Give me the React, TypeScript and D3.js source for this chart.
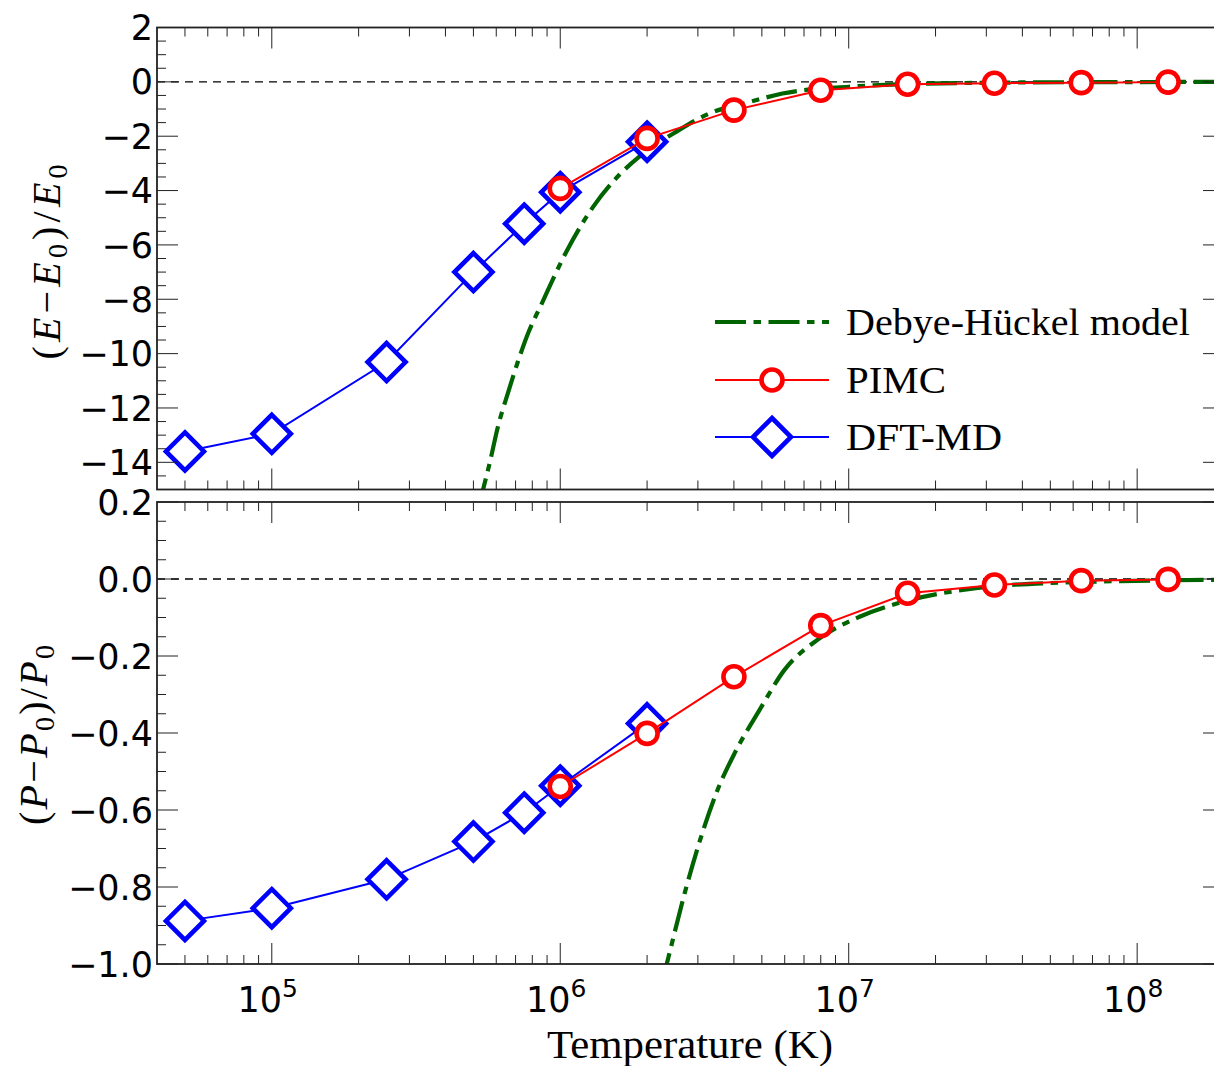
import React from "react";
import * as d3 from "d3";

// ---- data ----
const T_DFT = [5e4, 1e5, 2.5e5, 5e5, 7.5e5, 1e6, 2e6];
const E_DFT = [-13.6, -12.95, -10.31, -7.0, -5.22, -4.06, -2.2];
const P_DFT = [-0.888, -0.855, -0.78, -0.682, -0.607, -0.537, -0.375];

const T_PIMC = [1e6, 2e6, 4e6, 8e6, 1.6e7, 3.2e7, 6.4e7, 1.28e8];
const E_PIMC = [-3.92, -2.08, -1.04, -0.31, -0.09, -0.05, -0.03, -0.01];
const P_PIMC = [-0.539, -0.401, -0.254, -0.121, -0.037, -0.0156, -0.0043, -0.001];

const T_DH_E = [5.2e5, 5.4e5, 5.69e5, 6.08e5, 6.58e5, 7.13e5, 7.73e5, 8.59e5, 1.05e6, 1.3e6, 1.6e6, 1.88e6, 2.52e6, 3.29e6, 4.53e6, 5.89e6, 1.0e7, 1.62e7, 3.3e7, 7.4e7, 2e8];
const E_DH = [-15.7, -15.0, -14.04, -12.69, -11.46, -10.3, -9.26, -8.2, -6.25, -4.6, -3.43, -2.75, -1.84, -1.16, -0.74, -0.43, -0.18, -0.08, -0.03, -0.01, -0.003];

const T_DH_P = [2.25e6, 2.34e6, 2.7e6, 3.08e6, 3.51e6, 4.02e6, 4.91e6, 5.99e6, 7.79e6, 1.09e7, 1.62e7, 2.76e7, 5.37e7, 2e8];
const P_DH = [-1.05, -1.0, -0.816, -0.669, -0.548, -0.453, -0.34, -0.236, -0.158, -0.098, -0.055, -0.024, -0.0096, -0.002];

const X_MAJOR = [1e5, 1e6, 1e7, 1e8];
const X_EXP = ["5", "6", "7", "8"];
const TOP_MAJOR = [2, 0, -2, -4, -6, -8, -10, -12, -14];
const BOT_MAJOR = [0.2, 0.0, -0.2, -0.4, -0.6, -0.8, -1.0];
const LEGEND = ["Debye-Hückel model", "PIMC", "DFT-MD"];

// ---- layout ----
const W = 1214, H = 1066;
const L = 157, R = 1224;
const x = d3.scaleLog().domain([4e4, 2e8]).range([L, R]);
const yTop = d3.scaleLinear().domain([-15, 2]).range([489.5, 27.5]);
const yBot = d3.scaleLinear().domain([-1, 0.2]).range([964, 502]);

const RED = "#ff0000";
const BLUE = "#0000ff";
const GREEN = "#006400";
const TICK = "#222";
const SANS = "'DejaVu Sans', sans-serif";
const SERIF = "'Liberation Serif', 'DejaVu Serif', serif";

const minus = (s: string) => s.replace("-", "\u2212");

const xMinor: number[] = [];
for (let e = 4; e <= 8; e++) {
  for (let k = 2; k <= 9; k++) {
    const v = k * Math.pow(10, e);
    if (v > 4e4 && v < 2e8) xMinor.push(v);
  }
}

function Diamond({ cx, cy }: { cx: number; cy: number }) {
  const r = 19;
  return (
    <path
      d={`M${cx},${cy - r}L${cx + r},${cy}L${cx},${cy + r}L${cx - r},${cy}Z`}
      fill="#fff"
      stroke={BLUE}
      strokeWidth={4.6}
      strokeLinejoin="miter"
    />
  );
}
function Circle({ cx, cy }: { cx: number; cy: number }) {
  return <circle cx={cx} cy={cy} r={10.5} fill="#fff" stroke={RED} strokeWidth={4.6} />;
}

function Panel({
  y,
  id,
  major,
  minorStep,
  fmt,
  dfty,
  pimcy,
  dhT,
  dhY,
}: {
  y: d3.ScaleLinear<number, number>;
  id: string;
  major: number[];
  minorStep: number;
  fmt: (v: number) => string;
  dfty: number[];
  pimcy: number[];
  dhT: number[];
  dhY: number[];
}) {
  const [d0, d1] = y.domain();
  const [bottom, top] = y.range();
  const minors: number[] = [];
  const n = Math.round((d1 - d0) / minorStep);
  for (let i = 0; i <= n; i++) {
    const v = d0 + i * minorStep;
    if (!major.some((m) => Math.abs(m - v) < 1e-9)) minors.push(v);
  }
  const line = d3
    .line<[number, number]>()
    .x((d) => x(d[0]))
    .y((d) => y(d[1]));
  const dhLine = d3
    .line<[number, number]>()
    .x((d) => x(d[0]))
    .y((d) => y(d[1]))
    .curve(d3.curveMonotoneX);
  const dft = T_DFT.map((t, i) => [t, dfty[i]] as [number, number]);
  const pimc = T_PIMC.map((t, i) => [t, pimcy[i]] as [number, number]);
  const dh = dhT.map((t, i) => [t, dhY[i]] as [number, number]);
  return (
    <g>
      <defs>
        <clipPath id={id}>
          <rect x={L} y={top} width={R - L} height={bottom - top} />
        </clipPath>
      </defs>
      <line x1={L} x2={R} y1={y(0)} y2={y(0)} stroke="#000" strokeWidth={1.3} strokeDasharray="8,6" />
      <g clipPath={`url(#${id})`}>
        <path d={dhLine(dh) || ""} fill="none" stroke={GREEN} strokeWidth={4.2} strokeDasharray="31,7.5,7.5,7.5" />
        <path d={line(dft) || ""} fill="none" stroke={BLUE} strokeWidth={2} />
        {dft.map((d, i) => (
          <Diamond key={i} cx={x(d[0])} cy={y(d[1])} />
        ))}
        <path d={line(pimc) || ""} fill="none" stroke={RED} strokeWidth={2} />
        {pimc.map((d, i) => (
          <Circle key={i} cx={x(d[0])} cy={y(d[1])} />
        ))}
      </g>
      <g stroke={TICK} strokeWidth={1}>
        {X_MAJOR.map((v) => (
          <g key={"xm" + v}>
            <line x1={x(v)} x2={x(v)} y1={bottom} y2={bottom - 21} />
            <line x1={x(v)} x2={x(v)} y1={top} y2={top + 21} />
          </g>
        ))}
        {xMinor.map((v) => (
          <g key={"xn" + v}>
            <line x1={x(v)} x2={x(v)} y1={bottom} y2={bottom - 9} />
            <line x1={x(v)} x2={x(v)} y1={top} y2={top + 9} />
          </g>
        ))}
        {major.map((v) => (
          <g key={"ym" + v}>
            <line x1={L} x2={L + 21} y1={y(v)} y2={y(v)} />
            <line x1={R} x2={R - 21} y1={y(v)} y2={y(v)} />
          </g>
        ))}
        {minors.map((v) => (
          <g key={"yn" + v}>
            <line x1={L} x2={L + 9} y1={y(v)} y2={y(v)} />
            <line x1={R} x2={R - 9} y1={y(v)} y2={y(v)} />
          </g>
        ))}
      </g>
      <rect x={L} y={top} width={R - L} height={bottom - top} fill="none" stroke="#222" strokeWidth={1.8} />
      {major.map((v) => (
        <text key={"yl" + v} x={153} y={y(v)} dy="0.36em" textAnchor="end" fontFamily={SANS} fontSize={35} fill="#000">
          {minus(fmt(v))}
        </text>
      ))}
    </g>
  );
}

export default function App() {
  const legendRows = [322, 380, 437];
  return (
    <svg width={W} height={H} style={{ position: "absolute", left: 0, top: 0, background: "#fff" }}>
      <rect x={0} y={0} width={W} height={H} fill="#fff" />
      <Panel
        y={yTop}
        id="clipTop"
        major={TOP_MAJOR}
        minorStep={0.5}
        fmt={(v) => d3.format("d")(v)}
        dfty={E_DFT}
        pimcy={E_PIMC}
        dhT={T_DH_E}
        dhY={E_DH}
      />
      <Panel
        y={yBot}
        id="clipBot"
        major={BOT_MAJOR}
        minorStep={0.05}
        fmt={(v) => (Math.abs(v) < 1e-9 ? "0.0" : d3.format(".1f")(v))}
        dfty={P_DFT}
        pimcy={P_PIMC}
        dhT={T_DH_P}
        dhY={P_DH}
      />
      {X_MAJOR.map((v, i) => (
        <text key={"xl" + v} x={x(v) - 4} y={1011.7} textAnchor="middle" fontFamily={SANS} fontSize={35} fill="#000">
          10
          <tspan dy={-15} fontSize={25}>
            {X_EXP[i]}
          </tspan>
        </text>
      ))}
      <text x={690} y={1058} textAnchor="middle" fontFamily={SERIF} fontSize={40} textLength={286} lengthAdjust="spacingAndGlyphs" fill="#000">
        Temperature (K)
      </text>
      <text
        transform="translate(60,262) rotate(-90)"
        textAnchor="middle"
        fontFamily={SERIF}
        fontSize={40}
        fill="#000"
        textLength={195}
        lengthAdjust="spacing"
      >
        (<tspan fontStyle="italic">E</tspan>
        {"\u2212"}
        <tspan fontStyle="italic">E</tspan>
        <tspan fontSize={28} dy={7}>0</tspan>
        <tspan dy={-7}>)/</tspan>
        <tspan fontStyle="italic">E</tspan>
        <tspan fontSize={28} dy={7}>0</tspan>
      </text>
      <text
        transform="translate(47,735) rotate(-90)"
        textAnchor="middle"
        fontFamily={SERIF}
        fontSize={40}
        fill="#000"
        textLength={180}
        lengthAdjust="spacing"
      >
        (<tspan fontStyle="italic">P</tspan>
        {"\u2212"}
        <tspan fontStyle="italic">P</tspan>
        <tspan fontSize={28} dy={7}>0</tspan>
        <tspan dy={-7}>)/</tspan>
        <tspan fontStyle="italic">P</tspan>
        <tspan fontSize={28} dy={7}>0</tspan>
      </text>
      <g>
        <line x1={715} x2={829} y1={legendRows[0]} y2={legendRows[0]} stroke={GREEN} strokeWidth={4.2} strokeDasharray="31,7.5,7.5,7.5" />
        <line x1={715} x2={829} y1={legendRows[1]} y2={legendRows[1]} stroke={RED} strokeWidth={2} />
        <Circle cx={772} cy={legendRows[1]} />
        <line x1={715} x2={829} y1={legendRows[2]} y2={legendRows[2]} stroke={BLUE} strokeWidth={2} />
        <Diamond cx={772} cy={legendRows[2]} />
        {LEGEND.map((s, i) => (
          <text
            key={s}
            x={846}
            y={legendRows[i] + 13}
            fontFamily={SERIF}
            fontSize={38}
            fill="#000"
            textLength={[344, 100, 156][i]}
            lengthAdjust="spacingAndGlyphs"
          >
            {s}
          </text>
        ))}
      </g>
    </svg>
  );
}
